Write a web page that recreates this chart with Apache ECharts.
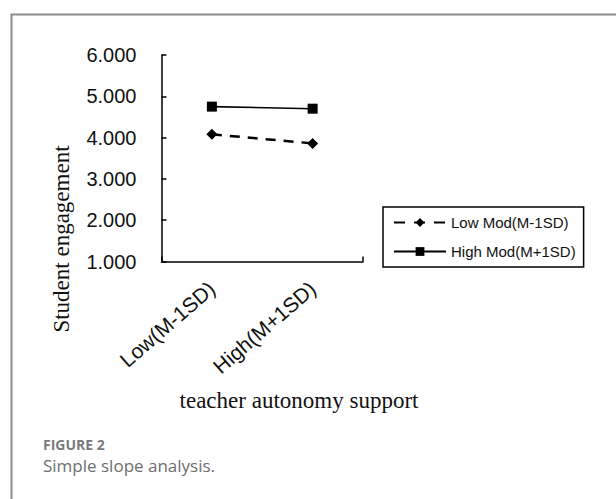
<!DOCTYPE html>
<html>
<head>
<meta charset="utf-8">
<script src="https://cdn.jsdelivr.net/npm/echarts@6/dist/echarts.min.js"></script>
<style>
html,body{margin:0;padding:0;background:#fff;}
#chart{width:616px;height:499px;}
</style>
</head>
<body>
<div id="chart"></div>
<script>
const categories = ['Low(M-1SD)', 'High(M+1SD)'];
const lowModValues = [4.08, 3.86];
const highModValues = [4.75, 4.70];
const seriesNames = ['Low Mod(M-1SD)', 'High Mod(M+1SD)'];
const yTicks = [1, 2, 3, 4, 5, 6];
const xAxisTitle = 'teacher autonomy support';
const yAxisTitle = 'Student engagement';
const figureLabel = 'FIGURE 2';
const figureCaption = 'Simple slope analysis.';

const chart = echarts.init(document.getElementById('chart'), null, {renderer: 'svg'});
const option = {
  animation: false,
  backgroundColor: '#ffffff',
  grid: {left: 161.5, right: 253, top: 55, bottom: 237.5, containLabel: false},
  legend: {
    orient: 'vertical',
    left: 383, top: 207,
    padding: [8, 8, 8, 10],
    itemGap: 14,
    itemWidth: 52, itemHeight: 11,
    borderColor: '#000', borderWidth: 1.5,
    textStyle: {fontFamily: 'Liberation Sans', fontSize: 15, color: '#111'},
    data: [
      {name: seriesNames[0], lineStyle: {type: [11, 9]}},
      {name: seriesNames[1]}
    ]
  },
  xAxis: [{
    type: 'category',
    data: categories,
    boundaryGap: true,
    axisLine: {lineStyle: {color: '#000', width: 1.5}},
    axisTick: {inside: true, length: 5, alignWithLabel: true, lineStyle: {color: '#000', width: 1.5}},
    axisLabel: {rotate: 41, margin: 24, fontFamily: 'Liberation Sans', fontSize: 21, color: '#111'}
  }, {
    type: 'value', min: 0, max: 1, interval: 1, position: 'bottom',
    axisLine: {show: false},
    axisTick: {show: true, inside: true, length: 5, lineStyle: {color: '#000', width: 1.5}},
    axisLabel: {show: false},
    splitLine: {show: false}
  }],
  yAxis: {
    type: 'value', min: yTicks[0], max: yTicks[yTicks.length - 1], interval: 1,
    axisLine: {show: true, lineStyle: {color: '#000', width: 1.5}},
    axisTick: {show: true, inside: true, length: 5, lineStyle: {color: '#000', width: 1.5}},
    splitLine: {show: false},
    axisLabel: {margin: 25, fontFamily: 'Liberation Sans', fontSize: 20, color: '#111',
      formatter: v => v.toFixed(3)}
  },
  series: [{
    name: seriesNames[0], type: 'line', data: lowModValues,
    symbol: 'diamond', symbolSize: 11,
    lineStyle: {color: '#000', width: 2.5, type: [10, 8]},
    itemStyle: {color: '#000'}
  }, {
    name: seriesNames[1], type: 'line', data: highModValues,
    symbol: 'rect', symbolSize: 10,
    lineStyle: {color: '#000', width: 1.6, type: 'solid'},
    itemStyle: {color: '#000'}
  }],
  graphic: [
    {type: 'rect', left: 9, top: 12, silent: true,
     shape: {x: 0, y: 0, width: 700, height: 600},
     style: {fill: 'none', stroke: '#8c8c8c', lineWidth: 2}},
    {type: 'text', x: 61, y: 239, rotation: Math.PI / 2,
     style: {text: yAxisTitle, fontFamily: 'Liberation Serif', fontSize: 23, fill: '#111',
       textAlign: 'center', textVerticalAlign: 'middle'}},
    {type: 'text', x: 299, y: 400,
     style: {text: xAxisTitle, fontFamily: 'Liberation Serif', fontSize: 23, fill: '#111',
       textAlign: 'center', textVerticalAlign: 'middle'}},
    {type: 'text', x: 43, y: 444,
     style: {text: figureLabel, fontFamily: 'Open Sans', fontWeight: 'bold', fontSize: 14, fill: '#7a7a7a',
       textAlign: 'left', textVerticalAlign: 'middle'}},
    {type: 'text', x: 43, y: 465,
     style: {text: figureCaption, fontFamily: 'Open Sans', fontSize: 17, fill: '#6e6e6e',
       textAlign: 'left', textVerticalAlign: 'middle'}}
  ]
};
chart.setOption(option);
</script>
</body>
</html>
